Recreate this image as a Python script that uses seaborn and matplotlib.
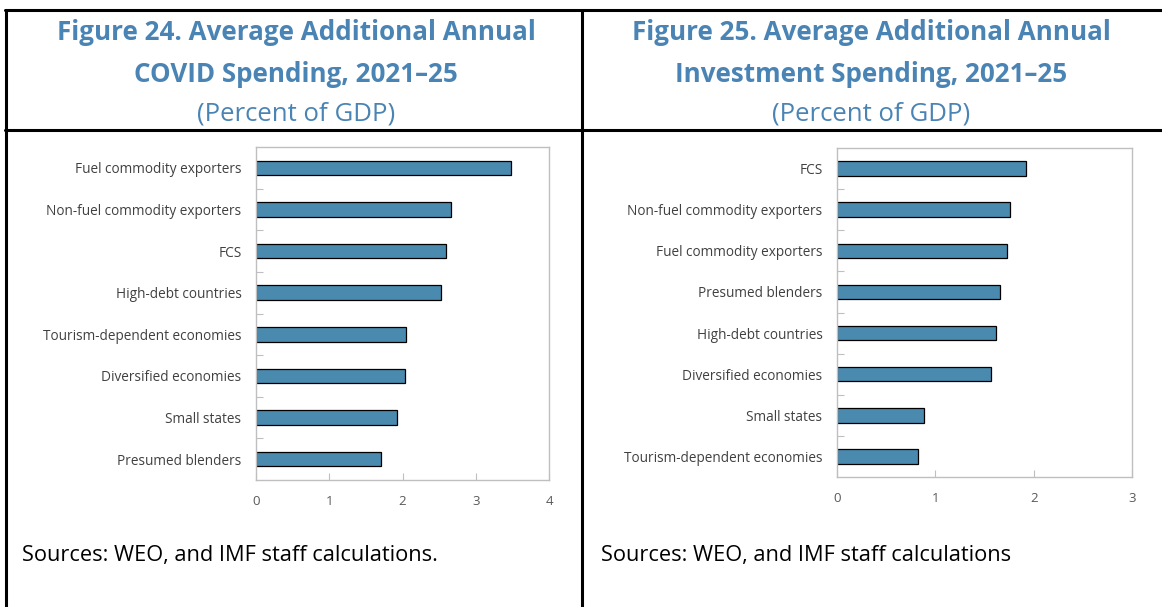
import numpy as np
import pandas as pd
import matplotlib
matplotlib.use('Agg')
import matplotlib.pyplot as plt
from matplotlib.lines import Line2D
import seaborn as sns

# Figure 24 data (COVID spending)
covid_groups = ["Fuel commodity exporters", "Non-fuel commodity exporters", "FCS",
                "High-debt countries", "Tourism-dependent economies",
                "Diversified economies", "Small states", "Presumed blenders"]
covid_values = [3.48, 2.66, 2.60, 2.53, 2.05, 2.04, 1.92, 1.71]

# Figure 25 data (investment spending)
invest_groups = ["FCS", "Non-fuel commodity exporters", "Fuel commodity exporters",
                 "Presumed blenders", "High-debt countries", "Diversified economies",
                 "Small states", "Tourism-dependent economies"]
invest_values = [1.92, 1.76, 1.73, 1.66, 1.62, 1.57, 0.88, 0.82]

covid_ticks = [0, 1, 2, 3, 4]
invest_ticks = [0, 1, 2, 3]

title_lines = [["Figure 24. Average Additional Annual", "COVID Spending, 2021\u201325"],
               ["Figure 25. Average Additional Annual", "Investment Spending, 2021\u201325"]]
subtitle = "(Percent of GDP)"
sources = ["Sources: WEO, and IMF staff calculations.",
           "Sources: WEO, and IMF staff calculations"]

TITLE_BLUE = "#4A84B4"
BAR_BLUE = "#4A8AAE"
GRID_GRAY = "#BFBFBF"
TEXT_GRAY = "#595959"

sns.set_theme(style="white")
plt.rcParams['font.family'] = ['Open Sans', 'DejaVu Sans']

W, H = 1162, 607
fig = plt.figure(figsize=(W / 100, H / 100), dpi=100)


def px_axes(x0, y0, x1, y1):
    # pixel box (top-left origin) -> figure axes
    return fig.add_axes([x0 / W, 1 - y1 / H, (x1 - x0) / W, (y1 - y0) / H])


def draw_panel(ax, groups, values, ticks):
    df = pd.DataFrame({"group": groups, "value": values})
    sns.barplot(data=df, x="value", y="group", orient="h", ax=ax,
                color=BAR_BLUE, saturation=1, width=0.35,
                edgecolor="black", linewidth=0.9)
    ax.set_xlim(ticks[0], ticks[-1])
    ax.set_ylim(len(groups) - 0.5, -0.5)
    ax.set_xticks(ticks)
    ax.set_xlabel("")
    ax.set_ylabel("")
    ax.set_yticks(np.arange(0.5, len(groups) - 1, 1), minor=True)
    ax.tick_params(axis="y", which="major", length=0, pad=10.5,
                   labelsize=9.8, labelcolor="#404040")
    ax.tick_params(axis="y", which="minor", left=True, direction="in",
                   length=5, color=GRID_GRAY, width=0.8)
    ax.tick_params(axis="x", which="major", bottom=True, direction="in",
                   length=5, color=GRID_GRAY, width=0.8, pad=11,
                   labelsize=9.5, labelcolor=TEXT_GRAY)
    for sp in ax.spines.values():
        sp.set_visible(True)
        sp.set_color(GRID_GRAY)
        sp.set_linewidth(1)


ax1 = px_axes(256, 147, 549, 480)
draw_panel(ax1, covid_groups, covid_values, covid_ticks)
ax2 = px_axes(837, 148, 1132, 477)
draw_panel(ax2, invest_groups, invest_values, invest_ticks)

# titles
for cx, lines in zip([296, 871], title_lines):
    for y, line in zip([32, 74], lines):
        fig.text(cx / W, 1 - y / H, line, ha="center", va="center",
                 color=TITLE_BLUE, fontsize=18.7, fontweight="bold")
    fig.text(cx / W, 1 - 114 / H, subtitle, ha="center", va="center",
             color=TITLE_BLUE, fontsize=18.5)

# sources
for x, s in zip([22, 601], sources):
    fig.text(x / W, 1 - 555 / H, s, ha="left", va="center",
             color="black", fontsize=15.7)

# table frame
lw = 2.2
fig.add_artist(Line2D([5 / W, 1], [1 - 10 / H, 1 - 10 / H], color="black", lw=lw))
fig.add_artist(Line2D([5 / W, 1], [1 - 130 / H, 1 - 130 / H], color="black", lw=lw))
fig.add_artist(Line2D([5.5 / W, 5.5 / W], [0, 1 - 10 / H], color="black", lw=lw))
fig.add_artist(Line2D([582 / W, 582 / W], [0, 1 - 10 / H], color="black", lw=lw))

fig.savefig("out.png", dpi=100, facecolor="white")
